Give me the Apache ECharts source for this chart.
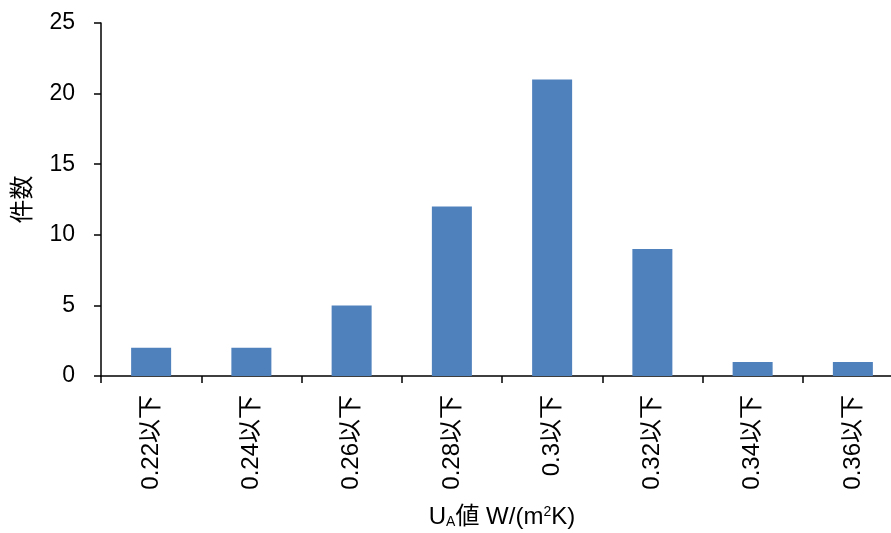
<!DOCTYPE html>
<html>
<head>
<meta charset="utf-8">
<script src="https://cdn.jsdelivr.net/npm/echarts@6/dist/echarts.min.js"></script>
<style>
  html, body { margin: 0; padding: 0; background: #fff; overflow: hidden; }
  #chart { width: 891px; height: 533px; }
</style>
</head>
<body>
<div id="chart"></div>
<script>
// U-value classes and the number of cases in each
const categories = ['0.22以下', '0.24以下', '0.26以下', '0.28以下', '0.3以下', '0.32以下', '0.34以下', '0.36以下'];
const counts = [2, 2, 5, 12, 21, 9, 1, 1];
const yTicks = { min: 0, max: 25, interval: 5 };

const FONT = '"Liberation Sans", "Noto Sans CJK JP", sans-serif';

const chart = echarts.init(document.getElementById('chart'), null, { renderer: 'canvas' });
chart.setOption({
  animation: false,
  backgroundColor: '#ffffff',
  // the last category runs past the right edge of the canvas
  grid: { left: 101, right: -12, top: 23, bottom: 157, containLabel: false, outerBoundsMode: 'none' },
  xAxis: {
    type: 'category',
    data: categories,
    boundaryGap: true,
    axisLine: { lineStyle: { color: '#000', width: 1.5 } },
    axisTick: { show: true, inside: false, length: 7, lineStyle: { color: '#000', width: 1.5 } },
    axisLabel: {
      rotate: 90,
      margin: 19,
      color: '#000',
      fontSize: 24,
      fontFamily: FONT,
      interval: 0
    },
    name: '{u|U}{sub|A}{u|値 W/(m}{sup|2}{u|K)}',
    nameLocation: 'middle',
    nameGap: 129,
    nameTextStyle: {
      rich: {
        u: { fontSize: 24, color: '#000', fontFamily: FONT },
        sub: { fontSize: 14, color: '#000', fontFamily: FONT, verticalAlign: 'bottom', padding: [9, 0, 0, 0] },
        sup: { fontSize: 14, color: '#000', fontFamily: FONT, verticalAlign: 'top', padding: [0, 0, 9, 0] }
      }
    }
  },
  yAxis: {
    type: 'value',
    min: yTicks.min,
    max: yTicks.max,
    interval: yTicks.interval,
    splitLine: { show: false },
    axisLine: { show: true, lineStyle: { color: '#000', width: 1.5 } },
    axisTick: { show: true, inside: false, length: 7, lineStyle: { color: '#000', width: 1.5 } },
    axisLabel: { color: '#000', fontSize: 23, fontFamily: FONT, margin: 26 },
    name: '件数',
    nameLocation: 'middle',
    nameGap: 66,
    nameRotate: 90,
    nameTextStyle: { color: '#000', fontSize: 24, fontFamily: FONT }
  },
  series: [{
    type: 'bar',
    data: counts,
    barWidth: 40,
    itemStyle: { color: '#4f81bd' }
  }]
});
</script>
</body>
</html>
